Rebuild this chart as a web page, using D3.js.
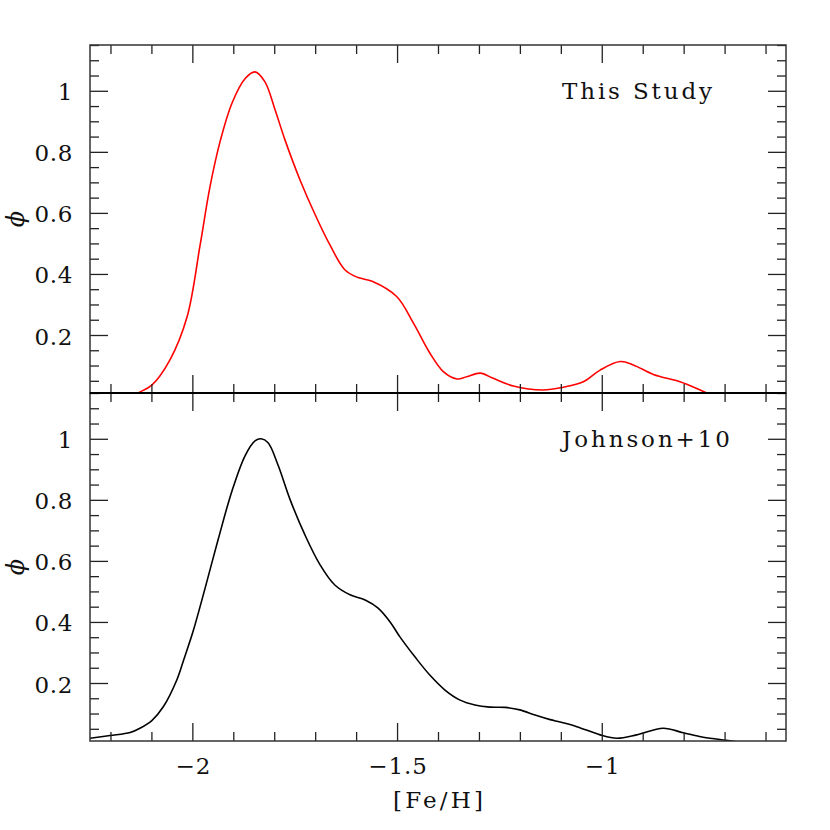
<!DOCTYPE html>
<html>
<head>
<meta charset="utf-8">
<script src="https://cdn.jsdelivr.net/npm/d3@7"></script>
<style>
  html, body { margin: 0; padding: 0; background: #fff; }
  svg { display: block; }
  text { font-family: "DejaVu Serif", serif; fill: #111; }
</style>
</head>
<body>
<svg id="chart" width="830" height="830"></svg>
<script>
// ---- data ----
const thisStudyFeH = [-2.16, -2.133, -2.099, -2.055, -2.013, -1.981, -1.957, -1.932, -1.903, -1.871, -1.847, -1.823, -1.798, -1.774, -1.737, -1.700, -1.664, -1.627, -1.595, -1.561, -1.501, -1.460, -1.420, -1.387, -1.354, -1.330, -1.297, -1.265, -1.216, -1.143, -1.094, -1.045, -1.004, -0.955, -0.923, -0.874, -0.809, -0.768, -0.744, -0.72];
const thisStudyPhi = [-0.01, 0.010, 0.036, 0.118, 0.259, 0.495, 0.685, 0.835, 0.960, 1.040, 1.062, 1.030, 0.938, 0.840, 0.708, 0.594, 0.495, 0.413, 0.388, 0.376, 0.326, 0.239, 0.141, 0.080, 0.056, 0.063, 0.075, 0.058, 0.033, 0.020, 0.029, 0.047, 0.085, 0.113, 0.102, 0.071, 0.047, 0.025, 0.010, -0.005];

const johnsonFeH = [-2.27, -2.250, -2.201, -2.152, -2.128, -2.099, -2.071, -2.038, -2.022, -1.998, -1.969, -1.937, -1.903, -1.871, -1.847, -1.832, -1.815, -1.791, -1.761, -1.725, -1.688, -1.652, -1.615, -1.578, -1.547, -1.517, -1.493, -1.456, -1.420, -1.383, -1.346, -1.310, -1.273, -1.236, -1.200, -1.163, -1.126, -1.102, -1.061, -1.004, -0.963, -0.915, -0.850, -0.801, -0.752, -0.687, -0.66];
const johnsonPhi = [0.015, 0.019, 0.028, 0.038, 0.052, 0.077, 0.122, 0.210, 0.272, 0.370, 0.510, 0.670, 0.830, 0.945, 0.993, 1.000, 0.987, 0.915, 0.800, 0.685, 0.587, 0.521, 0.489, 0.472, 0.446, 0.400, 0.351, 0.285, 0.226, 0.177, 0.144, 0.128, 0.121, 0.120, 0.112, 0.095, 0.080, 0.072, 0.057, 0.030, 0.019, 0.030, 0.052, 0.037, 0.022, 0.011, 0.005];

const xMajorTicks = [-2, -1.5, -1];
const xTickLabels = ["\u22122", "\u22121.5", "\u22121"];
const yMajorTicks = [0.2, 0.4, 0.6, 0.8, 1.0];
const yTickLabels = ["0.2", "0.4", "0.6", "0.8", "1"];
const panelLabels = ["This Study", "Johnson+10"];
const xTitle = "[Fe/H]";
const yTitle = "\u03D5";

// ---- layout ----
const svg = d3.select("#chart");
const L = 90, R = 786;
const panels = [
  { top: 45, bottom: 393, xs: thisStudyFeH, ys: thisStudyPhi, color: "#ff0000", label: panelLabels[0], showX: false },
  { top: 393, bottom: 741, xs: johnsonFeH, ys: johnsonPhi, color: "#000000", label: panelLabels[1], showX: true }
];

const x = d3.scaleLinear().domain([-2.25, -0.55]).range([L, R]);
const xMinor = d3.range(-2.2, -0.55, 0.1).map(v => +v.toFixed(2)).filter(v => !xMajorTicks.some(m => Math.abs(m - v) < 1e-6));
const yMinor = d3.range(0.05, 1.151, 0.05).map(v => +v.toFixed(2)).filter(v => !yMajorTicks.some(m => Math.abs(m - v) < 1e-6));

const MAJ = 18, MIN = 9;
const tickColor = "#222";

panels.forEach((p, i) => {
  const y = d3.scaleLinear().domain([0.01, 1.15]).range([p.bottom, p.top]);
  const g = svg.append("g");

  // clip
  const clipId = "clip" + i;
  svg.append("clipPath").attr("id", clipId)
    .append("rect").attr("x", L).attr("y", p.top).attr("width", R - L).attr("height", p.bottom - p.top);

  // curve
  const pts = p.xs.map((v, k) => [v, p.ys[k]]);
  const line = d3.line().x(d => x(d[0])).y(d => y(d[1])).curve(d3.curveCatmullRom.alpha(0.5));
  g.append("path").datum(pts)
    .attr("clip-path", `url(#${clipId})`)
    .attr("d", line)
    .attr("fill", "none")
    .attr("stroke", p.color)
    .attr("stroke-width", 1.6);

  // axes (ticks inward on all four sides)
  const mk = (axisFn, scale, vals, size, tx, ty) => {
    const a = g.append("g").attr("transform", `translate(${tx},${ty})`)
      .call(axisFn(scale).tickValues(vals).tickSize(size).tickFormat(""));
    a.select(".domain").remove();
    a.selectAll("line").attr("stroke", tickColor).attr("stroke-width", 1.3);
    return a;
  };
  mk(d3.axisBottom, x, xMajorTicks, -MAJ, 0, p.bottom);
  mk(d3.axisBottom, x, xMinor, -MIN, 0, p.bottom);
  mk(d3.axisTop, x, xMajorTicks, -MAJ, 0, p.top);
  mk(d3.axisTop, x, xMinor, -MIN, 0, p.top);
  mk(d3.axisLeft, y, yMajorTicks, -MAJ, L, 0);
  mk(d3.axisLeft, y, yMinor, -MIN, L, 0);
  mk(d3.axisRight, y, yMajorTicks, -MAJ, R, 0);
  mk(d3.axisRight, y, yMinor, -MIN, R, 0);

  // frame
  g.append("rect").attr("x", L).attr("y", p.top).attr("width", R - L).attr("height", p.bottom - p.top)
    .attr("fill", "none").attr("stroke", "#333").attr("stroke-width", 1.5);

  // y tick labels
  g.selectAll(".ylab").data(yMajorTicks).enter().append("text")
    .attr("x", L - 17).attr("y", d => y(d) + 9.5)
    .attr("text-anchor", "end")
    .attr("font-size", 23)
    .attr("letter-spacing", 0.6)
    .text((d, k) => yTickLabels[k]);

  // y title
  g.append("text")
    .attr("transform", `translate(24,${(p.top + p.bottom) / 2}) rotate(-90)`)
    .attr("text-anchor", "middle")
    .attr("font-size", 24)
    .attr("font-style", "italic")
    .text(yTitle);

  // panel label
  g.append("text")
    .attr("x", 562).attr("y", p.top + (i === 0 ? 54 : 53.5))
    .attr("font-size", 23)
    .attr("textLength", i === 0 ? 150 : 168)
    .attr("lengthAdjust", "spacing")
    .text(p.label);

  if (p.showX) {
    g.selectAll(".xlab").data(xMajorTicks).enter().append("text")
      .attr("x", d => x(d) + 1).attr("y", p.bottom + 33)
      .attr("text-anchor", "middle")
      .attr("font-size", 23)
      .attr("letter-spacing", 1)
      .text((d, k) => xTickLabels[k]);
    g.append("text")
      .attr("x", (L + R) / 2).attr("y", 808)
      .attr("text-anchor", "middle")
      .attr("font-size", 23)
      .attr("textLength", 90)
      .attr("lengthAdjust", "spacing")
      .text(xTitle);
  }
});

// shared middle line drawn darker
svg.append("line").attr("x1", L).attr("x2", R).attr("y1", 393).attr("y2", 393)
  .attr("stroke", "#000").attr("stroke-width", 2);
</script>
</body>
</html>
